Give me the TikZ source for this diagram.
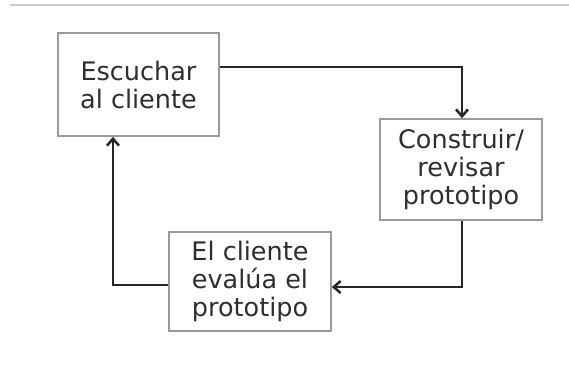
\documentclass[tikz,border=0pt]{standalone}
\usepackage{fontspec}
\setmainfont{DejaVu Sans}
\usetikzlibrary{arrows.meta}
\definecolor{txt}{HTML}{2E2E2E}
\definecolor{bord}{HTML}{9A9A9A}
\definecolor{arr}{HTML}{262626}
\begin{document}
\begin{tikzpicture}[x=1pt,y=-1pt,
  box/.style={draw=bord,line width=1.5pt,fill=white,text=txt,align=center,
    font=\fontsize{25.5}{28}\selectfont,inner sep=0pt},
  conn/.style={draw=arr,line width=2.5pt,-{Straight Barb[length=7pt,width=12pt,line width=2.5pt]}}]
\useasboundingbox[fill=white] (0,0) rectangle (569,381);
\draw[line width=1.2pt,draw=black!20] (10,5) -- (569,5);
\node[box,minimum width=161pt,minimum height=103pt] (a) at (138.5,84.5) {Escuchar\\al cliente};
\node[box,minimum width=162pt,minimum height=101pt] (b) at (461,169.5) {Construir/\\revisar\\prototipo};
\node[box,minimum width=162pt,minimum height=99pt] (c) at (250,281.5) {El cliente\\evalúa el\\prototipo};
\coordinate (p1) at (462,67);
\coordinate (p2) at (462,287);
\coordinate (p3) at (113,285);
\draw[conn] (a.east |- p1) -- (p1) -- (b.north -| p1);
\draw[conn] (b.south -| p2) -- (p2) -- (c.east |- p2);
\draw[conn] (c.west |- p3) -- (p3) -- (a.south -| p3);
\end{tikzpicture}
\end{document}
